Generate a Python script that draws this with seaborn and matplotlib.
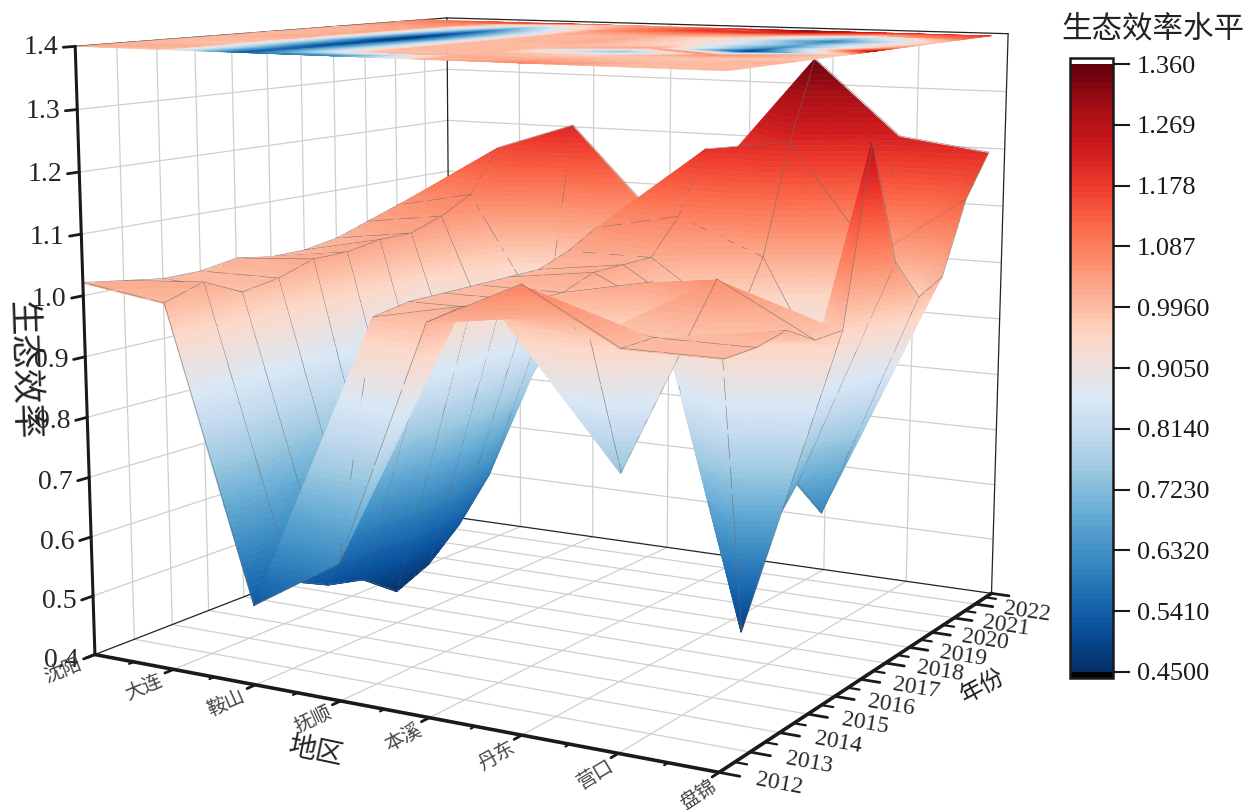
import numpy as np
import matplotlib
matplotlib.use('Agg')
import matplotlib.pyplot as plt
import seaborn as sns
from matplotlib.cm import ScalarMappable
from matplotlib.colors import LinearSegmentedColormap, Normalize
from mpl_toolkits.mplot3d.art3d import Poly3DCollection

cities = ['沈阳', '大连', '鞍山', '抚顺', '本溪', '丹东', '营口', '盘锦']
years = [2012, 2013, 2014, 2015, 2016, 2017, 2018, 2019, 2020, 2021, 2022]
z_ticks = [0.4, 0.5, 0.6, 0.7, 0.8, 0.9, 1.0, 1.1, 1.2, 1.3, 1.4]
cbar_ticks = [0.45, 0.541, 0.632, 0.723, 0.814, 0.905, 0.996, 1.087, 1.178, 1.269, 1.36]
cbar_labels = ['0.4500', '0.5410', '0.6320', '0.7230', '0.8140', '0.9050', '0.9960', '1.087', '1.178', '1.269', '1.360']

shenyang = [1.02, 1.01, 1.00, 1.00, 1.01, 1.00, 1.00, 1.01, 1.03, 1.05, 1.07]
dalian = [1.00, 1.02, 0.99, 1.00, 1.02, 1.02, 1.03, 1.03, 1.05, 1.08, 1.16]
anshan = [0.53, 0.545, 0.515, 0.50, 0.455, 0.48, 0.53, 0.60, 0.72, 0.85, 1.21]
fushun = [0.62, 0.99, 1.00, 1.00, 1.00, 1.00, 1.00, 1.02, 1.05, 1.06, 1.06]
benxi = [1.01, 1.02, 1.00, 1.00, 1.00, 1.02, 1.02, 1.02, 1.08, 1.19, 1.17]
dandong = [1.08, 1.02, 0.97, 0.74, 1.03, 0.95, 0.93, 0.92, 1.02, 1.21, 1.35]
yingkou = [1.00, 1.00, 0.98, 1.06, 0.48, 0.62, 0.68, 0.61, 0.75, 1.02, 1.22]
panjin = [1.00, 1.00, 1.01, 0.98, 0.98, 1.26, 1.06, 0.99, 1.01, 1.13, 1.20]

# cells split along the other diagonal (city index, year index)
flip_cells = [(4, 9), (5, 3)]

W, H = 1247, 810
S = 1400
YEND = 2022.8

sns.set_theme(style='white')
plt.rcParams['font.family'] = ['Liberation Serif', 'Noto Sans CJK SC']

Z = np.array([shenyang, dalian, anshan, fushun, benxi, dandong, yingkou, panjin])
x_pos = np.arange(len(cities))
zb, zt = z_ticks[0], z_ticks[-1]
y0, y1 = years[0], YEND
x0, x1 = x_pos[0], x_pos[-1]

fig = plt.figure(figsize=(W / 100, H / 100), dpi=100)
ax = fig.add_axes([(W / 2 - 80.4 - S / 2) / W, (H / 2 + 49.1 - S / 2) / H, S / W, S / H], projection='3d')
ax.set_xlim(x0, x1)
ax.set_ylim(y0, y1)
ax.set_zlim(zb, zt)
ax.view_init(elev=9.831, azim=-60.037)
ax.set_proj_type('persp', focal_length=0.337)
ax.set_box_aspect((1.05, 1.0, 0.913), zoom=0.7696)
ax.set_axis_off()
ax.computed_zorder = False

# blue to red through a pale grey in the middle
blues = sns.color_palette('Blues', as_cmap=True)
reds = sns.color_palette('Reds', as_cmap=True)
stops = [(t, blues(1 - 1.89 * t)) for t in np.linspace(0, 0.45, 20)]
stops += [(t, reds(0.15 + 1.89 * (t - 0.55))) for t in np.linspace(0.55, 1, 20)]
cmap = LinearSegmentedColormap.from_list('eco', stops, N=100).with_extremes(over='white', under='black')
vmin, vmax = cbar_ticks[0], cbar_ticks[-1]
norm = Normalize(vmin, vmax)
bands = np.linspace(vmin, vmax, 101)


def clip_poly(poly, level, keep_above):
    out = []
    n = len(poly)
    for i in range(n):
        a, b = poly[i], poly[(i + 1) % n]
        ina = a[2] >= level if keep_above else a[2] <= level
        inb = b[2] >= level if keep_above else b[2] <= level
        if ina:
            out.append(a)
        if ina != inb:
            t = (level - a[2]) / (b[2] - a[2])
            out.append(tuple(a[m] + t * (b[m] - a[m]) for m in range(3)))
    return out


def split_tri(tri, n=3):
    # smaller triangles so the depth sort of the slabs stays local
    a, b, c = [np.array(t, dtype=float) for t in tri]
    node = lambda i, j: tuple(a + (b - a) * i / n + (c - a) * j / n)
    parts = []
    for i in range(n):
        for j in range(n - i):
            parts.append([node(i, j), node(i + 1, j), node(i, j + 1)])
            if i + j < n - 1:
                parts.append([node(i + 1, j), node(i + 1, j + 1), node(i, j + 1)])
    return parts


def slab_faces(flat_z=None, n=3):
    faces, colors = [], []
    for i in range(len(cities) - 1):
        for j in range(len(years) - 1):
            p00 = (x_pos[i], years[j], Z[i, j])
            p10 = (x_pos[i + 1], years[j], Z[i + 1, j])
            p01 = (x_pos[i], years[j + 1], Z[i, j + 1])
            p11 = (x_pos[i + 1], years[j + 1], Z[i + 1, j + 1])
            if (i, j) in flip_cells:
                tris = ([p00, p10, p01], [p10, p11, p01])
            else:
                tris = ([p00, p10, p11], [p00, p11, p01])
            for big in tris:
                for tri in split_tri(big, n):
                    lo = min(t[2] for t in tri)
                    hi = max(t[2] for t in tri)
                    for k in range(len(bands) - 1):
                        if bands[k + 1] < lo or bands[k] > hi:
                            continue
                        poly = clip_poly(tri, bands[k], True)
                        if len(poly) >= 3:
                            poly = clip_poly(poly, bands[k + 1], False)
                        if len(poly) >= 3:
                            if flat_z is not None:
                                poly = [(a, b, flat_z) for a, b, c in poly]
                            faces.append(poly)
                            colors.append(cmap(norm((bands[k] + bands[k + 1]) / 2)))
    return faces, colors


# gridlines on the floor and back walls
gcol = '#cfcfcf'
for x in x_pos[1:-1]:
    ax.plot([x, x], [y0, y1], [zb, zb], color=gcol, lw=0.9, zorder=1)
    ax.plot([x, x], [y1, y1], [zb, zt], color=gcol, lw=0.9, zorder=1)
for y in years[1:]:
    ax.plot([x0, x1], [y, y], [zb, zb], color=gcol, lw=0.9, zorder=1)
    ax.plot([x0, x0], [y, y], [zb, zt], color=gcol, lw=0.9, zorder=1)
for z in z_ticks[1:-1]:
    ax.plot([x0, x0], [y0, y1], [z, z], color=gcol, lw=0.9, zorder=1)
    ax.plot([x0, x1], [y1, y1], [z, z], color=gcol, lw=0.9, zorder=1)

# thin box edges at the back
for a, b, c in [([x0, x0], [y1, y1], [zb, zt]), ([x1, x1], [y1, y1], [zb, zt]), ([x0, x1], [y1, y1], [zb, zb]),
                ([x0, x0], [y0, y1], [zb, zb]), ([x0, x0], [y0, y1], [zt, zt]), ([x0, x1], [y1, y1], [zt, zt])]:
    ax.plot(a, b, c, color='#222222', lw=0.9, zorder=1.5)

# surface with gray mesh lines in the same collection, so they get hidden properly
faces, colors = slab_faces()
edges = list(colors)
line_col = (0.42, 0.42, 0.42, 0.8)
off = np.array([0.015, -0.02, 0.002])
for i in range(len(cities)):
    for j in range(len(years)):
        a = np.array([x_pos[i], years[j], Z[i, j]])
        for b_idx in ((i + 1, j), (i, j + 1)):
            if b_idx[0] >= len(cities) or b_idx[1] >= len(years):
                continue
            b = np.array([x_pos[b_idx[0]], years[b_idx[1]], Z[b_idx]])
            ts = np.linspace(0, 1, 13)
            for t0, t1 in zip(ts[:-1], ts[1:]):
                pa = a + t0 * (b - a) + off
                pb = a + t1 * (b - a) + off
                faces.append([tuple(pa), tuple(pb), tuple(pa)])
                colors.append((0, 0, 0, 0))
                edges.append(line_col)
surf = Poly3DCollection(faces, facecolors=colors, edgecolors=edges, linewidths=0.45, zorder=2)
ax.add_collection3d(surf)

top_faces, top_colors = slab_faces(flat_z=zt, n=1)
top = Poly3DCollection(top_faces, facecolors=top_colors, edgecolors=top_colors, linewidths=0.3, zorder=3)
ax.add_collection3d(top)

# thick front axes and ticks
ax.plot([x0, x0], [y0, y0], [zb, zt], color='k', lw=2.2, zorder=4)
ax.plot([x0, x1], [y0, y0], [zb, zb], color='k', lw=2.6, zorder=4)
ax.plot([x1, x1], [y0, y1], [zb, zb], color='k', lw=2.6, zorder=4)
for z in z_ticks:
    ax.plot([x0, x0], [y0, y0 - 0.28], [z, z], color='k', lw=2.0, zorder=4)
    ax.text(x0, y0 - 0.4, z, f'{z:.1f}', fontsize=20, ha='right', va='center', zorder=5)
for i, x in enumerate(x_pos):
    ax.plot([x, x], [y0, y0 - 0.22], [zb, zb], color='k', lw=2.0, zorder=4)
    if i < x1:
        ax.plot([x + 0.5, x + 0.5], [y0, y0 - 0.12], [zb, zb], color='k', lw=1.6, zorder=4)
    ax.text(x + 0.1, y0 - 0.96, zb, cities[i], zdir=(0, 1, 0), fontsize=14, ha='center', va='center', color='#444444', zorder=5)
ax.plot([x1, x1 + 0.2], [y1, y1], [zb, zb], color='k', lw=2.0, zorder=4)
for j, y in enumerate(years):
    ax.plot([x1, x1 + 0.2], [y, y], [zb, zb], color='k', lw=2.0, zorder=4)
    ax.plot([x1, x1 + 0.12], [y + 0.5, y + 0.5], [zb, zb], color='k', lw=1.6, zorder=4)
    ax.text(x1 + 0.58, y, zb, str(y), zdir=(1, 0, 0), fontsize=17, ha='center', va='center', zorder=5)

fig.text(22 / W, 1 - 370 / H, '生态效率', fontsize=25, rotation=-88, ha='center', va='center', color='#222222')
fig.text(315 / W, 1 - 752 / H, '地区', fontsize=20, rotation=-12, ha='center', va='center', color='#222222')
fig.text(983 / W, 1 - 687 / H, '年份', fontsize=17, rotation=28, ha='center', va='center', color='#222222')
fig.text(1153 / W, 1 - 30 / H, '生态效率水平', fontsize=22, ha='center', va='center', color='#222222')

cax = fig.add_axes([1070 / W, (H - 678) / H, 43 / W, 620 / H])
sm = ScalarMappable(norm=norm, cmap=cmap)
cb = fig.colorbar(sm, cax=cax, extend='both', extendrect=True, extendfrac=0.01, ticks=cbar_ticks, drawedges=False)
cb.set_ticklabels(cbar_labels)
cb.ax.tick_params(length=12, width=1.5, labelsize=19, pad=5, right=True, color='k', labelcolor='k')
cb.outline.set_linewidth(1.8)
cb.outline.set_edgecolor('k')

fig.savefig('out.png', dpi=100)
